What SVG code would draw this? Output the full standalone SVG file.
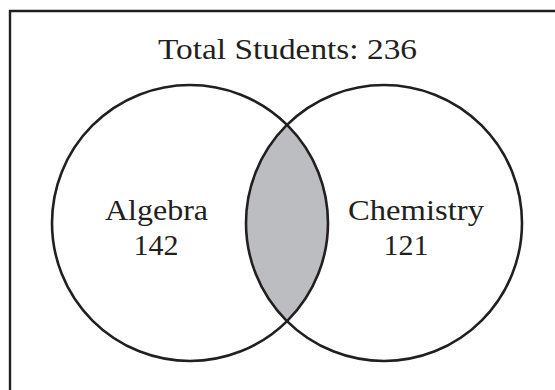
<svg xmlns="http://www.w3.org/2000/svg" width="555" height="390" viewBox="0 0 555 390">
<style>
.txt{font-family:"Liberation Serif","Times New Roman",serif;font-size:30px;fill:#231f20;text-anchor:middle}
.circ{fill:none;stroke:#231f20;stroke-width:2.6}
</style>
<rect width="555" height="390" fill="#ffffff"/>
<path d="M10,390 V11 H555" fill="none" stroke="#231f20" stroke-width="2.4"/>
<text class="txt" x="287.5" y="59" textLength="259" lengthAdjust="spacingAndGlyphs">Total Students: 236</text>
<g id="overlap">
<path d="M287,124.8 A138,138 0 0,1 287,321.2 A138,138 0 0,1 287,124.8 Z" fill="#bcbdc1"/>
</g>
<g id="algebra">
<circle class="circ" cx="190" cy="223" r="138"/>
<text class="txt" x="156.5" y="220" textLength="103" lengthAdjust="spacingAndGlyphs">Algebra</text>
<text class="txt" x="156" y="255">142</text>
</g>
<g id="chemistry">
<circle class="circ" cx="384" cy="223" r="138"/>
<text class="txt" x="416" y="220" textLength="136" lengthAdjust="spacingAndGlyphs">Chemistry</text>
<text class="txt" x="406" y="255">121</text>
</g>
<g id="connectors"/>
</svg>
